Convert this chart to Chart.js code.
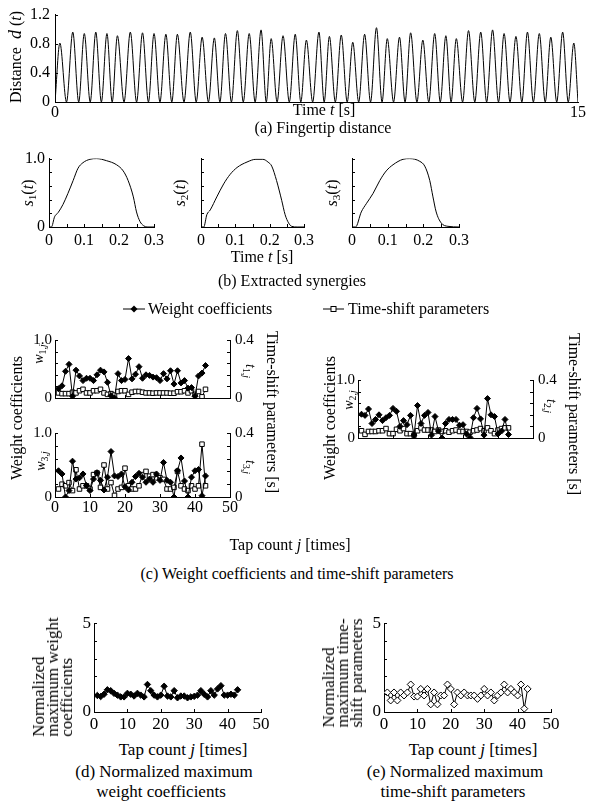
<!DOCTYPE html>
<html>
<head>
<meta charset="utf-8">
<script src="https://cdn.jsdelivr.net/npm/chart.js@4.4.1/dist/chart.umd.min.js"></script>
<style>
body { margin: 0; background: #fff; }
#fig { position: relative; width: 591px; height: 804px; overflow: hidden; color: #000;
       font-family: "Liberation Serif", "Times New Roman", serif; }
#fig canvas { position: absolute; }
.t { position: absolute; white-space: nowrap; font-size: 16px; line-height: 1; transform: translate(-50%, -50%); }
.t.up { transform: translate(-50%, -50%) rotate(-90deg); }
.t.down { transform: translate(-50%, -50%) rotate(90deg); }
.t.lft { transform: translate(0, -50%); }
.t.sm { font-size: 14px; }
.blk { position: absolute; font-size: 17px; line-height: 14px; white-space: nowrap; text-align: left;
       transform: translate(-50%, -50%) rotate(-90deg); }
sub { font-size: 0.7em; vertical-align: -0.3em; line-height: 0; }
</style>
</head>
<body>
<div id="fig">
  <canvas id="ca"></canvas>
  <canvas id="cb1"></canvas>
  <canvas id="cb2"></canvas>
  <canvas id="cb3"></canvas>
  <canvas id="cw1"></canvas>
  <canvas id="cw3"></canvas>
  <canvas id="cw2"></canvas>
  <canvas id="cd"></canvas>
  <canvas id="ce"></canvas>

  <!-- (a) -->
  <div class="t up" style="left:15px;top:57px">Distance&nbsp; <i style="font-size:18px">d</i> (<i>t</i>)</div>
  <div class="t" style="left:324px;top:110px">Time <i>t</i> [s]</div>
  <div class="t" style="left:323px;top:128px">(a) Fingertip distance</div>

  <!-- (b) -->
  <div class="t up" style="left:28px;top:193px"><i>s</i><sub>1</sub>(<i>t</i>)</div>
  <div class="t up" style="left:180px;top:193px"><i>s</i><sub>2</sub>(<i>t</i>)</div>
  <div class="t up" style="left:332px;top:193px"><i>s</i><sub>3</sub>(<i>t</i>)</div>
  <div class="t" style="left:262px;top:257px">Time <i>t</i> [s]</div>
  <div class="t" style="left:292px;top:281px">(b) Extracted synergies</div>

  <!-- (c) legend -->
  <svg style="position:absolute;left:120px;top:303px" width="30" height="12">
    <line x1="3" y1="6" x2="25" y2="6" stroke="#000" stroke-width="1"/>
    <polygon points="14,2.5 17.5,6 14,9.5 10.5,6" fill="#000"/>
  </svg>
  <div class="t lft" style="left:148px;top:309px">Weight coefficients</div>
  <svg style="position:absolute;left:322px;top:303px" width="26" height="12">
    <line x1="1" y1="6" x2="22" y2="6" stroke="#000" stroke-width="1"/>
    <rect x="9" y="3.5" width="5" height="5" fill="#fff" stroke="#000" stroke-width="1"/>
  </svg>
  <div class="t lft" style="left:348px;top:309px">Time-shift parameters</div>

  <!-- (c) axis titles -->
  <div class="t up" style="left:17px;top:418px">Weight coefficients</div>
  <div class="t down" style="left:272px;top:412px">Time-shift parameters [s]</div>
  <div class="t up sm" style="left:39px;top:354px"><i>w</i><sub>1,<i>j</i></sub></div>
  <div class="t down sm" style="left:250px;top:371px"><i>t</i><sub>1,<i>j</i></sub></div>
  <div class="t up sm" style="left:41px;top:461px"><i>w</i><sub>3,<i>j</i></sub></div>
  <div class="t down sm" style="left:250px;top:467px"><i>t</i><sub>3,<i>j</i></sub></div>
  <div class="t up" style="left:330px;top:418px">Weight coefficients</div>
  <div class="t down" style="left:574px;top:414px">Time-shift parameters [s]</div>
  <div class="t up sm" style="left:349px;top:400px"><i>w</i><sub>2,<i>j</i></sub></div>
  <div class="t down sm" style="left:551px;top:406px"><i>t</i><sub>2,<i>j</i></sub></div>
  <div class="t" style="left:290px;top:545px">Tap count <i>j</i> [times]</div>
  <div class="t" style="left:297px;top:574px">(c) Weight coefficients and time-shift parameters</div>

  <!-- (d) -->
  <div class="blk" style="left:53px;top:677px">Normalized<br>maximum weight<br>coefficients</div>
  <div class="t" style="left:183px;top:749px;font-size:17px">Tap count <i>j</i> [times]</div>
  <div class="t" style="left:164px;top:771px;font-size:17px">(d) Normalized maximum</div>
  <div class="t" style="left:161px;top:791px;font-size:17px">weight coefficients</div>

  <!-- (e) -->
  <div class="blk" style="left:343px;top:673px">Normalized<br>maximum time-<br>shift parameters</div>
  <div class="t" style="left:473px;top:749px;font-size:17px">Tap count <i>j</i> [times]</div>
  <div class="t" style="left:455px;top:771px;font-size:17px">(e) Normalized maximum</div>
  <div class="t" style="left:453px;top:791px;font-size:17px">time-shift parameters</div>
</div>

<script>
// (a) fingertip distance: peaks and the closed-finger troughs between them
const peakTime = [0.14, 0.51, 0.84, 1.17, 1.49, 1.79, 2.16, 2.51, 2.84, 3.18, 3.51, 3.88, 4.22, 4.57, 4.89,
  5.23, 5.57, 5.91, 6.20, 6.54, 6.89, 7.21, 7.57, 7.87, 8.21, 8.54, 8.88, 9.22, 9.53, 9.88,
  10.20, 10.55, 10.89, 11.21, 11.51, 11.86, 12.21, 12.55, 12.88, 13.22, 13.55, 13.89, 14.22, 14.56, 14.88];
const peakDist = [0.81, 0.96, 0.94, 0.96, 0.94, 0.91, 0.96, 0.95, 0.94, 0.93, 0.93, 0.96, 0.89, 0.88, 0.94,
  0.98, 0.94, 0.99, 0.87, 0.91, 0.93, 0.85, 0.96, 0.90, 0.92, 0.82, 0.93, 1.02, 0.87, 0.89,
  0.95, 0.85, 0.94, 0.91, 0.87, 0.98, 0.96, 0.99, 0.94, 0.90, 0.96, 0.94, 0.89, 0.96, 0.81];
const troughTime = [0, 0.33, 0.68, 1.01, 1.33, 1.64, 1.98, 2.34, 2.68, 3.01, 3.35, 3.70, 4.05, 4.40, 4.73,
  5.06, 5.40, 5.74, 6.06, 6.37, 6.72, 7.05, 7.39, 7.72, 8.04, 8.38, 8.71, 9.05, 9.38, 9.71,
  10.04, 10.38, 10.72, 11.05, 11.36, 11.69, 12.04, 12.38, 12.72, 13.05, 13.39, 13.72, 14.06, 14.39, 14.72, 15.0];

// (b) extracted synergies
const s1Time = [0, 0.007, 0.016, 0.026, 0.04, 0.054, 0.069, 0.083, 0.097, 0.117, 0.136, 0.164, 0.193, 0.212, 0.226, 0.241, 0.25, 0.26, 0.27, 0.28, 0.3];
const s1Val  = [0, 0, 0.15, 0.21, 0.33, 0.49, 0.68, 0.86, 0.94, 0.99, 1.0, 0.97, 0.91, 0.82, 0.68, 0.44, 0.22, 0.08, 0.02, 0, 0];
const s2Time = [0, 0.008, 0.017, 0.027, 0.046, 0.066, 0.085, 0.105, 0.134, 0.16, 0.18, 0.195, 0.206, 0.22, 0.235, 0.245, 0.255, 0.264, 0.28, 0.3];
const s2Val  = [0, 0, 0.18, 0.25, 0.44, 0.63, 0.77, 0.87, 0.95, 0.99, 0.99, 0.95, 0.89, 0.68, 0.39, 0.18, 0.06, 0.01, 0, 0];
const s3Time = [0, 0.01, 0.026, 0.04, 0.059, 0.078, 0.096, 0.115, 0.143, 0.162, 0.19, 0.204, 0.218, 0.227, 0.236, 0.25, 0.269, 0.3];
const s3Val  = [0, 0, 0.22, 0.34, 0.49, 0.68, 0.82, 0.91, 0.99, 1.0, 0.96, 0.89, 0.68, 0.44, 0.22, 0.06, 0.01, 0];

// (c) weight coefficients and time-shift parameters per tap
const tapCount = [1, 2, 3, 4, 5, 6, 7, 8, 9, 10, 11, 12, 13, 14, 15, 16, 17, 18, 19, 20, 21, 22,
  23, 24, 25, 26, 27, 28, 29, 30, 31, 32, 33, 34, 35, 36, 37, 38, 39, 40, 41, 42, 43];
const w1 = [0.16, 0.21, 0.46, 0.58, 0.03, 0.48, 0.38, 0.30, 0.34, 0.34, 0.30, 0.40, 0.48, 0.45, 0.27, 0.04, 0.00, 0.42, 0.30, 0.32, 0.68, 0.33,
  0.41, 0.54, 0.34, 0.40, 0.39, 0.36, 0.35, 0.30, 0.42, 0.33, 0.47, 0.24, 0.47, 0.26, 0.30, 0.17, 0.18, 0.03, 0.38, 0.43, 0.56];
const t1 = [0.035, 0.03, 0.03, 0.03, 0.04, 0.035, 0.05, 0.06, 0.035, 0.035, 0.05, 0.05, 0.06, 0.035, 0.025, 0.03, 0.02, 0.045, 0.05, 0.05, 0.025, 0.04,
  0.045, 0.045, 0.04, 0.035, 0.035, 0.033, 0.035, 0.035, 0.035, 0.035, 0.033, 0.033, 0.043, 0.043, 0.05, 0.035, 0.05, 0.025, 0.045, 0.008, 0.06];
const w2 = [0.41, 0.39, 0.50, 0.25, 0.32, 0.40, 0.30, 0.35, 0.39, 0.51, 0.46, 0.20, 0.30, 0.23, 0.39, 0.05, 0.56, 0.25, 0.39, 0.44, 0.05, 0.37,
  0.12, 0.00, 0.25, 0.32, 0.32, 0.32, 0.22, 0.23, 0.07, 0.01, 0.35, 0.51, 0.33, 0.05, 0.68, 0.40, 0.37, 0.07, 0.12, 0.32, 0.06];
const t2 = [0.05, 0.025, 0.045, 0.045, 0.045, 0.05, 0.05, 0.065, 0.03, 0.03, 0.06, 0.05, 0.065, 0.03, 0.03, 0.02, 0.05, 0.07, 0.055, 0.055, 0.055, 0.045,
  0.055, 0.045, 0.05, 0.04, 0.05, 0.055, 0.045, 0.045, 0.045, 0.04, 0.05, 0.055, 0.065, 0.05, 0.07, 0.05, 0.03, 0.055, 0.065, 0.07, 0.07];
const w3 = [0.41, 0.36, 0.00, 0.10, 0.56, 0.28, 0.30, 0.36, 0.18, 0.10, 0.28, 0.38, 0.26, 0.11, 0.31, 0.71, 0.33, 0.32, 0.36, 0.16, 0.11, 0.23,
  0.32, 0.37, 0.31, 0.23, 0.28, 0.23, 0.36, 0.26, 0.54, 0.26, 0.23, 0.00, 0.41, 0.61, 0.25, 0.00, 0.31, 0.41, 0.43, 0.02, 0.33];
const t3 = [0.05, 0.08, 0.07, 0.09, 0.04, 0.17, 0.05, 0.07, 0.07, 0.05, 0.14, 0.15, 0.06, 0.20, 0.05, 0.09, 0.01, 0.05, 0.06, 0.18, 0.07, 0.05,
  0.05, 0.07, 0.14, 0.16, 0.13, 0.14, 0.12, 0.12, 0.11, 0.05, 0.05, 0.06, 0.16, 0.07, 0.05, 0.04, 0.07, 0.05, 0.07, 0.33, 0.07];

// (d), (e) normalized maxima
const normWeight = [0.93, 0.87, 1.0, 1.25, 1.2, 1.05, 0.95, 0.85, 0.85, 1.05, 1.0, 0.9, 1.05, 0.95, 0.85, 1.55, 1.2, 0.95, 0.85, 0.95, 1.45, 0.9,
  0.85, 1.2, 0.8, 0.9, 0.9, 0.8, 0.85, 0.88, 0.95, 1.2, 1.0, 0.85, 1.2, 0.95, 1.3, 1.48, 0.95, 0.95, 1.0, 0.95, 1.25];
const normShift = [1.1, 0.65, 1.1, 0.65, 1.1, 0.93, 1.1, 1.55, 0.87, 0.87, 1.3, 0.93, 1.3, 0.43, 1.1, 0.43, 0.93, 0.93, 1.55, 1.3, 0.43, 1.1,
  0.93, 1.1, 0.93, 0.93, 0.93, 0.74, 0.93, 1.3, 0.93, 1.1, 0.65, 0.93, 1.1, 1.55, 1.1, 1.3, 1.1, 0.93, 1.55, 0.19, 1.3];

const serif = 'Liberation Serif';
Chart.defaults.font.family = serif;
Chart.defaults.color = '#000';

// small tick marks pointing into the plot area
const inTicks = {
  id: 'inTicks',
  afterDraw(chart, args, opts) {
    const ctx = chart.ctx, a = chart.chartArea, len = opts.len || 3;
    ctx.save();
    ctx.strokeStyle = '#000';
    ctx.lineWidth = 1;
    (opts.axes || []).forEach(id => {
      const s = chart.scales[id];
      s.ticks.forEach(t => {
        const p = Math.round(s.getPixelForValue(t.value)) + 0.5;
        ctx.beginPath();
        if (s.axis === 'x') { ctx.moveTo(p, a.bottom); ctx.lineTo(p, a.bottom - len); }
        else if (s.position === 'right') { ctx.moveTo(a.right, p); ctx.lineTo(a.right - len, p); }
        else { ctx.moveTo(a.left, p); ctx.lineTo(a.left + len, p); }
        ctx.stroke();
      });
    });
    ctx.restore();
  }
};

function xs(arr, ys) { return arr.map((x, i) => ({ x: x, y: ys[i] })); }

function xAxis(min, max, step, cb, pad, size, h) {
  return {
    type: 'linear', min: min, max: max,
    border: { display: true, color: '#000', width: 1 },
    grid: { display: false, drawTicks: false },
    ticks: { stepSize: step, autoSkip: false, maxRotation: 0, padding: pad, color: '#000',
             font: { family: serif, size: size }, callback: cb },
    afterFit(s) { s.height = h; }
  };
}
function yAxis(min, max, step, cb, pad, size, w, pos) {
  return {
    type: 'linear', min: min, max: max, position: pos || 'left',
    border: { display: true, color: '#000', width: 1 },
    grid: { display: false, drawTicks: false },
    ticks: { stepSize: step, autoSkip: false, padding: pad, color: '#000',
             font: { family: serif, size: size }, callback: cb },
    afterFit(s) { s.width = w; }
  };
}

// box = canvas bounds on the page, area = wanted plot area
function draw(id, box, area, datasets, scales, tickAxes, rightAxis) {
  const c = document.getElementById(id);
  const w = box.r - box.l, h = box.b - box.t;
  c.width = w; c.height = h;
  c.style.left = box.l + 'px'; c.style.top = box.t + 'px';
  c.style.width = w + 'px'; c.style.height = h + 'px';
  return new Chart(c, {
    type: 'line',
    data: { datasets: datasets },
    options: {
      responsive: false, animation: false, devicePixelRatio: 1,
      layout: { autoPadding: false,
                padding: { left: 0, top: area.t - box.t, right: rightAxis ? 0 : box.r - area.r, bottom: 0 } },
      plugins: { legend: { display: false }, tooltip: { enabled: false }, inTicks: { axes: tickAxes, len: 3 } },
      scales: scales
    },
    plugins: [inTicks]
  });
}

const plain = v => String(+v.toFixed(2));
const none = () => '';
const ends01 = v => v === 0 ? '0' : (Math.abs(v - 1) < 1e-6 ? '1.0' : '');
const ends04 = v => v === 0 ? '0' : (Math.abs(v - 0.4) < 1e-6 ? '0.4' : '');
const tenths = v => { const r = Math.round(v * 20); return r % 2 ? '' : (r === 0 ? '0' : (r / 20).toFixed(1)); };
const ends05 = v => (v === 0 || v === 5) ? String(v) : '';

function lineSet(pts) {
  return { data: pts, borderColor: '#000', borderWidth: 1, pointRadius: 0,
           cubicInterpolationMode: 'monotone', fill: false };
}

// (a)
const distPts = [];
troughTime.forEach((t, i) => {
  distPts.push({ x: t, y: 0 });
  if (i < peakTime.length) distPts.push({ x: peakTime[i], y: peakDist[i] });
});
draw('ca', { l: 0, t: 0, r: 591, b: 122 }, { l: 55, t: 13, r: 578, b: 102 },
  [lineSet(distPts)],
  { x: xAxis(0, 15, 15, plain, 1, 16, 20), y: yAxis(0, 1.2, 0.4, plain, 5, 16, 55) },
  ['y']);

// (b)
const synBox = [{ l: 8, r: 170 }, { l: 175, r: 320 }, { l: 327, r: 475 }];
const synArea = [{ l: 49, r: 154 }, { l: 201, r: 304 }, { l: 352, r: 459 }];
const synData = [xs(s1Time, s1Val), xs(s2Time, s2Val), xs(s3Time, s3Val)];
['cb1', 'cb2', 'cb3'].forEach((id, i) => {
  const box = { l: synBox[i].l, r: synBox[i].r, t: 145, b: 252 };
  const area = { l: synArea[i].l, r: synArea[i].r, t: 157, b: 227 };
  draw(id, box, area, [lineSet(synData[i])],
    { x: xAxis(0, 0.3, 0.05, tenths, 4, 16, box.b - area.b),
      y: yAxis(0, 1, 0.2, i === 0 ? ends01 : none, 4, 16, area.l - box.l) },
    ['x', 'y']);
});

// (c)
function wtSets(w, t) {
  return [
    { data: xs(tapCount, w), yAxisID: 'y', borderColor: '#000', borderWidth: 1, backgroundColor: '#000',
      pointStyle: 'rectRot', pointRadius: 3, pointBorderWidth: 1, tension: 0 },
    { data: xs(tapCount, t), yAxisID: 'y2', borderColor: '#000', borderWidth: 1, backgroundColor: '#fff',
      pointStyle: 'rect', pointRadius: 3.2, pointBorderWidth: 1, tension: 0 }
  ];
}
function wtChart(id, box, area, w, t, showX) {
  draw(id, box, area, wtSets(w, t), {
    x: xAxis(0, 50, 10, showX ? plain : none, 1, 16, box.b - area.b),
    y: yAxis(0, 1, 0.2, ends01, 3, 15, area.l - box.l),
    y2: yAxis(0, 0.4, 0.08, ends04, 5, 15, box.r - area.r, 'right')
  }, ['x', 'y', 'y2'], true);
}
wtChart('cw1', { l: 20, t: 326, r: 268, b: 412 }, { l: 55, t: 338, r: 230, b: 406 }, w1, t1, false);
wtChart('cw3', { l: 20, t: 419, r: 268, b: 518 }, { l: 55, t: 431, r: 230, b: 497 }, w3, t3, true);
wtChart('cw2', { l: 323, t: 366, r: 571, b: 452 }, { l: 358, t: 378, r: 533, b: 445 }, w2, t2, false);

// (d), (e)
function normChart(id, box, area, vals, hollow) {
  draw(id, box, area, [{
    data: xs(tapCount, vals), borderColor: '#000', borderWidth: 1,
    backgroundColor: hollow ? '#fff' : '#000', pointStyle: 'rectRot',
    pointRadius: hollow ? 3.5 : 3.2, pointBorderWidth: 1, tension: 0
  }], {
    x: xAxis(0, 50, 10, plain, 2, 17, box.b - area.b),
    y: yAxis(0, 5, 1, ends05, 3, 17, area.l - box.l)
  }, ['x', 'y']);
}
normChart('cd', { l: 70, t: 610, r: 285, b: 735 }, { l: 94, t: 622, r: 261, b: 712 }, normWeight, false);
normChart('ce', { l: 360, t: 610, r: 575, b: 735 }, { l: 384, t: 622, r: 551, b: 712 }, normShift, true);
</script>
</body>
</html>
